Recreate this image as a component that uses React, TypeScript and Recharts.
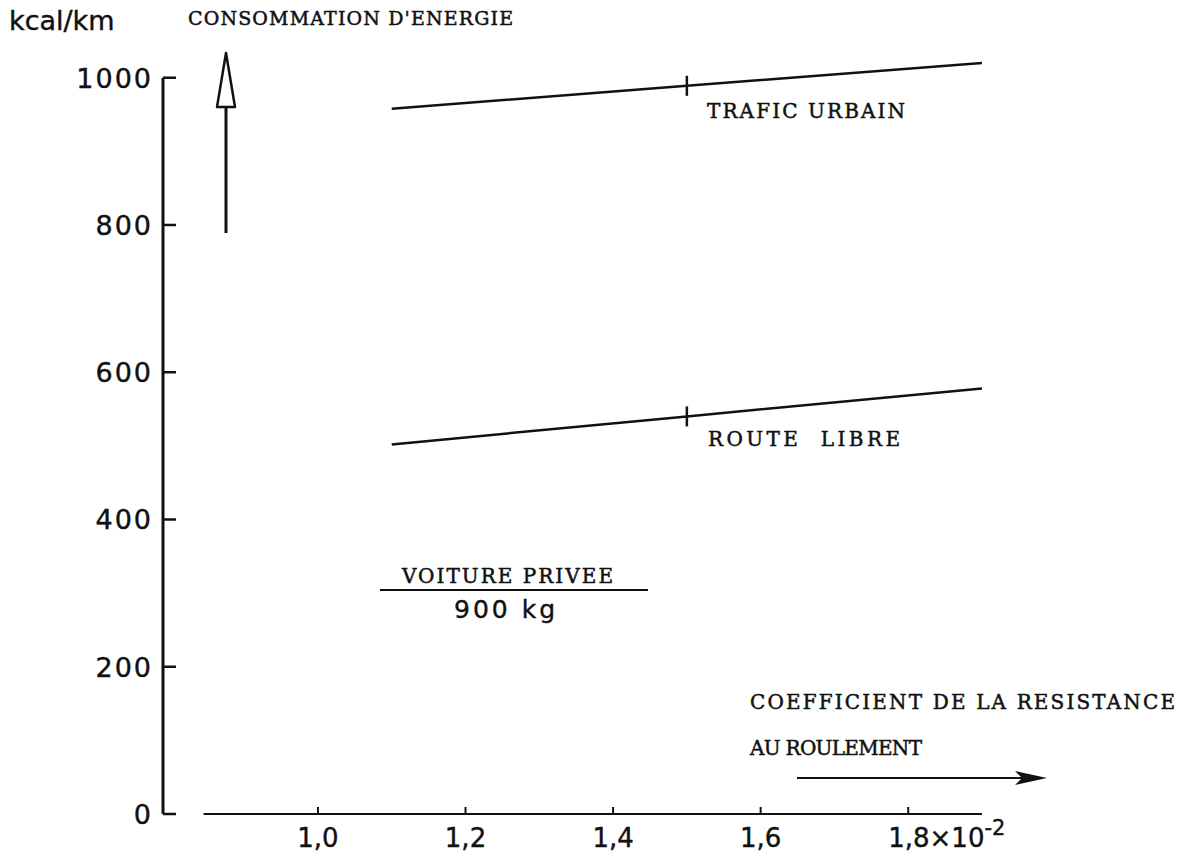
import { LineChart, Line, XAxis, YAxis, ReferenceLine } from 'recharts';

// coefficient de la resistance au roulement (x 10^-2)
const coeff = [1.1, 1.5, 1.9];
// kcal/km
const traficUrbain = [958, 989, 1020];
const routeLibre = [502, 540, 578];

const xTicks = [1.0, 1.2, 1.4, 1.6, 1.8];
const xTickLabels = ['1,0', '1,2', '1,4', '1,6', '1,8'];
const yTicks = [0, 200, 400, 600, 800, 1000];

const data = coeff.map((x, i) => ({ x, trafic: traficUrbain[i], route: routeLibre[i] }));

const SANS = '"DejaVu Sans", sans-serif';
const TYPE = '"DejaVu Serif", serif';
const INK = '#111';

function XTick({ x, y, payload }: any) {
  const i = xTicks.findIndex((t) => Math.abs(t - payload.value) < 1e-6);
  const last = i === xTicks.length - 1;
  return (
    <g>
      <line x1={x} y1={y} x2={x} y2={y - 7} stroke={INK} strokeWidth={2} />
      <text
        x={last ? x - 20 : x}
        y={y + 33}
        textAnchor={last ? 'start' : 'middle'}
        fontFamily={SANS}
        fontSize={26}
        fill={INK}
        stroke={INK}
        strokeWidth={0.4}
      >
        {xTickLabels[i]}
        {last && (
          <>
            ×10
            <tspan dy={-12} fontSize={21}>
              -2
            </tspan>
          </>
        )}
      </text>
    </g>
  );
}

function YTick({ x, y, payload }: any) {
  return (
    <g>
      <line x1={x + 10} y1={y} x2={x + 23} y2={y} stroke={INK} strokeWidth={2.5} />
      <text
        x={x}
        y={y}
        dy={10}
        textAnchor="end"
        fontFamily={SANS}
        fontSize={27}
        letterSpacing={2}
        fill={INK}
        stroke={INK}
        strokeWidth={0.4}
      >
        {payload.value}
      </text>
    </g>
  );
}

// small vertical mark at 1,5
const mark = (props: any) =>
  props.index === 1 ? (
    <line
      key={`m-${props.dataKey}`}
      x1={props.cx}
      x2={props.cx}
      y1={props.cy - 10}
      y2={props.cy + 10}
      stroke={INK}
      strokeWidth={2.5}
    />
  ) : (
    <g key={`m-${props.dataKey}-${props.index}`} />
  );

const typeProps = {
  fontFamily: TYPE,
  fontSize: 20,
  fill: INK,
  stroke: INK,
  strokeWidth: 0.5,
  lengthAdjust: 'spacing' as const,
  style: { whiteSpace: 'pre' as const },
};

export default function App() {
  return (
    <div style={{ position: 'absolute', left: 0, top: 0, width: 1197, height: 860, background: '#fff' }}>
      <LineChart width={1197} height={860} data={data} margin={{ top: 63, right: 215, bottom: 0, left: 0 }}>
        <XAxis
          dataKey="x"
          type="number"
          domain={[0.79, 1.9]}
          ticks={xTicks}
          axisLine={false}
          tickLine={false}
          tickSize={0}
          tickMargin={0}
          height={46}
          tick={XTick}
          allowDataOverflow
        />
        <YAxis
          type="number"
          domain={[0, 1020]}
          ticks={yTicks}
          width={163}
          tickSize={0}
          tickMargin={10}
          tickLine={false}
          axisLine={false}
          tick={YTick}
        />
        <ReferenceLine
          segment={[
            { x: 0.79, y: 0 },
            { x: 0.79, y: 1000 },
          ]}
          stroke={INK}
          strokeWidth={3}
          ifOverflow="visible"
        />
        <ReferenceLine
          segment={[
            { x: 0.845, y: 0 },
            { x: 1.9, y: 0 },
          ]}
          stroke={INK}
          strokeWidth={2}
          ifOverflow="visible"
        />
        <Line dataKey="trafic" stroke={INK} strokeWidth={2.5} dot={mark} isAnimationActive={false} />
        <Line dataKey="route" stroke={INK} strokeWidth={2.5} dot={mark} isAnimationActive={false} />
      </LineChart>
      <svg
        width={1197}
        height={860}
        style={{ position: 'absolute', left: 0, top: 0, pointerEvents: 'none' }}
      >
        <text x={9} y={30} fontFamily={SANS} fontSize={27} fill={INK} stroke={INK} strokeWidth={0.4}>
          kcal/km
        </text>
        <text x={188} y={25} textLength={325} {...typeProps} fontSize={19}>
          CONSOMMATION D'ENERGIE
        </text>
        <text x={707} y={118} textLength={198} {...typeProps}>
          TRAFIC URBAIN
        </text>
        <text x={708} y={446} textLength={192} {...typeProps}>
          ROUTE  LIBRE
        </text>
        <text x={402} y={583} textLength={211} {...typeProps}>
          VOITURE PRIVEE
        </text>
        <line x1={380} y1={590} x2={648} y2={590} stroke={INK} strokeWidth={2} />
        <text
          x={506}
          y={618}
          textAnchor="middle"
          fontFamily={SANS}
          fontSize={25}
          letterSpacing={3}
          fill={INK}
          stroke={INK}
          strokeWidth={0.4}
        >
          900 kg
        </text>
        <text x={750} y={709} textLength={425} {...typeProps}>
          COEFFICIENT DE LA RESISTANCE
        </text>
        <text x={750} y={755} textLength={172} {...typeProps}>
          AU ROULEMENT
        </text>
        <line x1={797} y1={778} x2={1022} y2={778} stroke={INK} strokeWidth={2} />
        <polygon points="1015,771 1047,778 1015,785 1022,778" fill={INK} />
        <line x1={226} y1={233} x2={226} y2={107} stroke={INK} strokeWidth={3} />
        <polygon
          points="217,107 226,53 235,107"
          fill="#fff"
          stroke={INK}
          strokeWidth={2.5}
          strokeLinejoin="round"
        />
      </svg>
    </div>
  );
}
